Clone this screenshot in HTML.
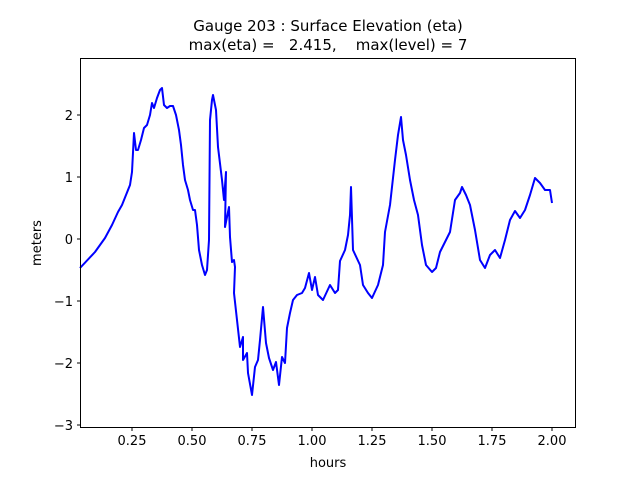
<!DOCTYPE html>
<html><head><style>body{margin:0;background:#fff}svg{display:block}text{font-family:"DejaVu Sans","Liberation Sans",sans-serif;fill:#000}</style></head><body>
<svg width="640" height="480" xmlns="http://www.w3.org/2000/svg">
<text x="328" y="31" font-size="15" text-anchor="middle">Gauge 203 : Surface Elevation (eta)</text>
<text x="328" y="50" font-size="15" text-anchor="middle" xml:space="preserve">max(eta) =   2.415,    max(level) = 7</text>
<polyline fill="none" stroke="#0000ff" stroke-width="2" stroke-linejoin="round" points="80,268 95,252 105,238 112,225 118,212 122,205 126,195 130,185 132,172 134,133 136,150 138,150 141,140 144,128 147,125 150,115 152,103 154,108 157,98 160,90 162,88 164,105 167,108 170,106 173,106 176,115 179,130 181,145 183,165 185,180 188,190 190,200 193,210 195,210 197,225 199,250 202,265 205,275 207,270 209,240 210,120 212,100 213,95 216,110 218,147 222,180 224,200 226,172 225,227 229,207 230,237 232,262 234,260 235,267 234,293 237,320 240,347 243,337 243,360 247,353 248,373 252,395 255,367 258,360 260,340 263,307 266,343 269,358 273,370 276,362 279,385 282,357 285,363 287,328 290,313 293,300 297,295 302,293 305,288 309,273 312,290 315,277 318,295 323,300 330,285 335,293 338,290 340,261 345,250 348,235 350,215 351,187 353,250 360,265 363,285 368,293 372,298 378,285 383,265 385,232 390,205 395,160 398,135 401,117 403,140 406,155 410,180 414,200 418,215 422,245 426,265 432,272 436,268 440,252 445,242 450,232 455,200 460,193 462,187 466,195 470,205 475,230 480,260 485,268 490,255 495,250 500,258 505,240 510,220 515,211 520,218 525,210 530,195 535,178 540,183 545,190 550,190 552,203"/>
<rect x="80.5" y="58.5" width="495" height="369" fill="none" stroke="#000" stroke-width="1"/>
<g stroke="#000">
<line x1="132" y1="428" x2="132" y2="431"/><line x1="192" y1="428" x2="192" y2="431"/><line x1="252" y1="428" x2="252" y2="431"/><line x1="312" y1="428" x2="312" y2="431"/><line x1="372" y1="428" x2="372" y2="431"/><line x1="432" y1="428" x2="432" y2="431"/><line x1="492" y1="428" x2="492" y2="431"/><line x1="552" y1="428" x2="552" y2="431"/>
<line x1="77" y1="115" x2="80" y2="115"/><line x1="77" y1="177" x2="80" y2="177"/><line x1="77" y1="239" x2="80" y2="239"/><line x1="77" y1="301" x2="80" y2="301"/><line x1="77" y1="363" x2="80" y2="363"/><line x1="77" y1="425" x2="80" y2="425"/>
</g>
<g font-size="13" text-anchor="middle">
<text x="132" y="445">0.25</text><text x="192" y="445">0.50</text><text x="252" y="445">0.75</text><text x="312" y="445">1.00</text><text x="372" y="445">1.25</text><text x="432" y="445">1.50</text><text x="492" y="445">1.75</text><text x="552" y="445">2.00</text>
</g>
<g font-size="13" text-anchor="end">
<text x="73" y="120">2</text><text x="73" y="182">1</text><text x="73" y="244">0</text><text x="73" y="306">−1</text><text x="73" y="368">−2</text><text x="73" y="430">−3</text>
</g>
<text x="328" y="467" font-size="13" text-anchor="middle">hours</text>
<text transform="translate(41,243) rotate(-90)" font-size="13" text-anchor="middle">meters</text>
</svg>
</body></html>
